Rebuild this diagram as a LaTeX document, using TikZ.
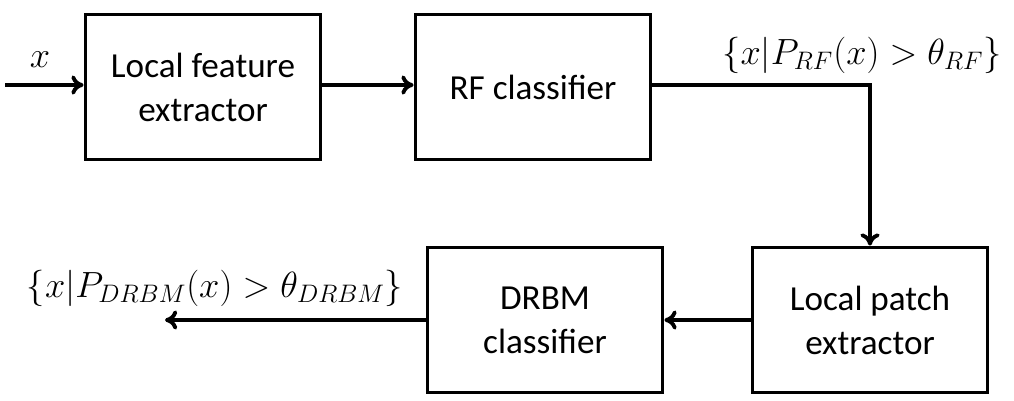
\documentclass[tikz,border=0pt]{standalone}
\usepackage{fontspec}
\setmainfont{Carlito}
\usepackage{tikz}
\usetikzlibrary{positioning,arrows.meta}
\begin{document}
\begin{tikzpicture}[x=0.02cm,y=-0.02cm]
  \tikzset{
    block/.style={draw, line width=2.2pt, minimum width=4.7cm, minimum height=2.9cm, align=center, font=\fontsize{20}{25}\selectfont},
    flow/.style={-{To[length=7pt,width=11pt]}, line width=2.2pt},
    lbl/.style={font=\fontsize{21.5}{26}\selectfont}
  }
  \useasboundingbox (0,0) rectangle (1014,400);

  % Blocks
  \node[block] (feat) at (203,87) {Local feature\\extractor};
  \node[block] (rf) at (533,87) {RF classifier};
  \node[block] (patch) at (870,320) {Local patch\\extractor};
  \node[block] (drbm) at (545,320) {DRBM\\classifier};

  % Free ends
  \coordinate (in) at (5,85);
  \coordinate (out) at (165,320);
  \coordinate (turn) at (870,85);

  % Connectors
  \draw[flow] (in) -- (feat.west |- in);
  \draw[flow] (feat.east |- in) -- (rf.west |- in);
  \draw[flow] (rf.east |- turn) -- (turn) -- (patch.north);
  \draw[flow] (patch.west) -- (drbm.east);
  \draw[flow] (drbm.west) -- (out);

  % Labels
  \node[lbl] (xlbl) at (40,60) {$x$};
  \node[lbl] (rflbl) at (862,55) {$\{x|P_{RF}(x) > \theta_{RF}\}$};
  \node[lbl] (drbmlbl) at (215,288) {$\{x|P_{DRBM}(x) > \theta_{DRBM}\}$};
\end{tikzpicture}
\end{document}
